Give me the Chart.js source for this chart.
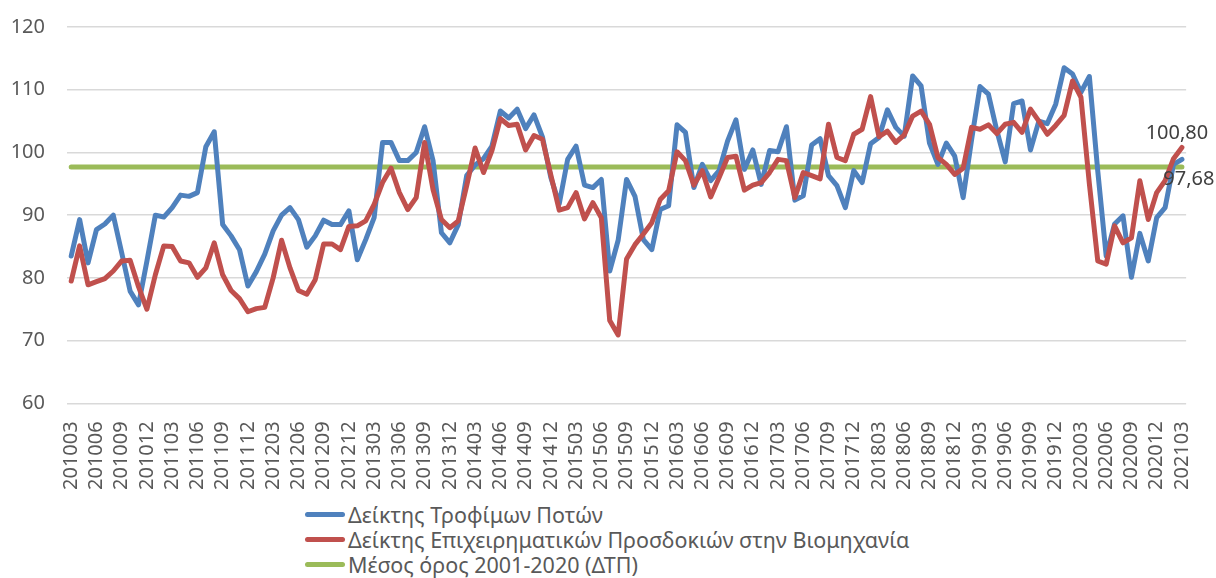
<!DOCTYPE html>
<html lang="el">
<head>
    <meta charset="UTF-8">
    <title>Δείκτης Τροφίμων Ποτών</title>
    <script src="https://cdn.jsdelivr.net/npm/chart.js"></script>
    <style>
        body {
            margin: 0;
            background: #ffffff;
            font-family: 'Noto Sans', sans-serif;
        }
        .wrap {
            position: relative;
            width: 1216px;
            height: 578px;
            overflow: hidden;
        }
        .chart-box {
            position: absolute;
            left: 0;
            top: -7px;
            width: 1216px;
            height: 507px;
        }
        #legend {
            position: absolute;
            left: 305px;
            top: 502px;
            color: #595959;
            font-size: 21.5px;
            line-height: 25px;
        }
        #legend div {
            display: flex;
            align-items: center;
            white-space: nowrap;
        }
        #legend span.swatch {
            display: inline-block;
            width: 40px;
            height: 5px;
            border-radius: 3px;
            margin-right: 3px;
        }
    </style>
</head>
<body>
    <div class="wrap">
        <div class="chart-box">
            <canvas id="indexChart"></canvas>
        </div>
        <div id="legend"></div>
    </div>

    <script>
        // months 201003 .. 202103
        const startYear = 2010, startMonth = 3;
        const monthCount = 133;
        const months = [];
        for (let k = 0; k < monthCount; k++) {
            const m = startMonth - 1 + k;
            const y = startYear + Math.floor(m / 12);
            const mm = (m % 12) + 1;
            months.push(String(y) + String(mm).padStart(2, '0'));
        }

        // Δείκτης Τροφίμων Ποτών
        const foodDrinkIndex = [
            83.5, 89.3, 82.4, 87.7, 88.6, 90.0, 84.0, 77.9, 75.7, 82.7,
            90.0, 89.7, 91.2, 93.2, 93.0, 93.6, 100.9, 103.3, 88.5, 86.7,
            84.5, 78.7, 81.0, 83.8, 87.5, 90.0, 91.2, 89.3, 84.9, 86.7,
            89.2, 88.5, 88.5, 90.7, 82.9, 86.1, 89.6, 101.6, 101.6, 98.7,
            98.7, 100.0, 104.1, 98.7, 87.2, 85.6, 88.5, 96.3, 98.0, 99.0,
            101.0, 106.6, 105.5, 106.9, 103.8, 106.0, 102.5, 96.0, 91.8, 98.9,
            101.0, 94.8, 94.4, 95.7, 81.1, 86.0, 95.7, 93.0, 86.1, 84.5,
            90.9, 91.5, 104.4, 103.2, 94.4, 98.1, 95.5, 97.1, 101.8, 105.2,
            97.3, 100.4, 94.9, 100.3, 100.1, 104.1, 92.4, 93.1, 101.2, 102.2,
            96.3, 94.7, 91.2, 97.1, 95.2, 101.4, 102.4, 106.8, 104.0, 102.6,
            112.2, 110.6, 101.5, 98.1, 101.5, 99.4, 92.8, 102.0, 110.5, 109.3,
            103.5, 98.5, 107.8, 108.2, 100.4, 105.0, 104.6, 107.7, 113.5, 112.5,
            109.6, 112.1, 97.0, 83.5, 88.6, 89.9, 80.1, 87.1, 82.7, 89.6,
            91.2, 98.1, 98.9
        ];

        // Δείκτης Επιχειρηματικών Προσδοκιών στην Βιομηχανία
        const industryIndex = [
            79.5, 85.1, 78.9, 79.4, 79.9, 81.1, 82.7, 82.8, 78.6, 75.0,
            80.5, 85.1, 85.0, 82.7, 82.4, 80.1, 81.6, 85.6, 80.5, 78.0,
            76.7, 74.6, 75.1, 75.3, 80.0, 86.0, 81.6, 78.0, 77.4, 79.7,
            85.4, 85.4, 84.5, 88.2, 88.3, 89.1, 91.7, 95.2, 97.5, 93.6,
            90.9, 92.8, 101.6, 94.1, 89.3, 88.0, 89.1, 94.7, 100.7, 96.8,
            100.3, 105.4, 104.3, 104.5, 100.4, 102.7, 102.1, 96.4, 90.8, 91.2,
            93.6, 89.4, 92.0, 89.6, 73.2, 70.9, 83.0, 85.3, 87.0, 88.8,
            92.5, 93.9, 100.1, 98.7, 94.8, 97.1, 92.9, 96.0, 99.2, 99.4,
            94.0, 94.8, 95.2, 96.8, 98.9, 98.7, 92.8, 96.8, 96.3, 95.8,
            104.5, 99.2, 98.7, 102.9, 103.7, 108.9, 102.5, 103.4, 101.6, 102.8,
            105.8, 106.6, 104.5, 99.2, 98.1, 96.5, 97.5, 104.0, 103.7, 104.4,
            103.0, 104.5, 104.8, 103.2, 106.9, 105.0, 102.9, 104.3, 105.9, 111.4,
            108.8, 95.0, 82.7, 82.2, 88.3, 85.6, 86.4, 95.5, 89.3, 93.6,
            95.5, 99.0, 100.8
        ];

        // Μέσος όρος 2001-2020 (ΔΤΠ)
        const meanValue = 97.68;
        const meanLine = months.map(() => meanValue);

        const yTicks = [60, 70, 80, 90, 100, 110, 120];

        const seriesNames = [
            'Δείκτης Τροφίμων Ποτών',
            'Δείκτης Επιχειρηματικών Προσδοκιών στην Βιομηχανία',
            'Μέσος όρος 2001-2020 (ΔΤΠ)'
        ];
        const seriesColors = ['#4f81bd', '#c0504d', '#9bbb59'];

        // value labels at the end of some lines
        const endLabels = {
            1: { text: '100,80', dx: -5, dy: -14 },
            2: { text: '97,68', dx: 7, dy: 12 }
        };

        const endLabelPlugin = {
            id: 'endLabels',
            afterDatasetsDraw(chart) {
                const ctx = chart.ctx;
                ctx.save();
                ctx.font = "20px 'Noto Sans', sans-serif";
                ctx.fillStyle = '#404040';
                ctx.textAlign = 'center';
                ctx.textBaseline = 'middle';
                Object.keys(endLabels).forEach(idx => {
                    const meta = chart.getDatasetMeta(Number(idx));
                    const pt = meta.data[meta.data.length - 1];
                    const lab = endLabels[idx];
                    ctx.fillText(lab.text, pt.x + lab.dx, pt.y + lab.dy);
                });
                ctx.restore();
            }
        };

        const datasets = [foodDrinkIndex, industryIndex, meanLine].map((vals, i) => ({
            label: seriesNames[i],
            data: vals,
            borderColor: seriesColors[i],
            backgroundColor: seriesColors[i],
            borderWidth: 5,
            pointRadius: 0,
            tension: 0,
            borderCapStyle: 'round',
            borderJoinStyle: 'round',
            fill: false
        }));
        // draw green first, then blue, red on top
        datasets[2].order = 3;
        datasets[0].order = 2;
        datasets[1].order = 1;

        const ctx = document.getElementById('indexChart').getContext('2d');
        new Chart(ctx, {
            type: 'line',
            data: { labels: months, datasets: datasets },
            plugins: [endLabelPlugin],
            options: {
                responsive: true,
                maintainAspectRatio: false,
                animation: false,
                layout: { padding: { left: 8, right: 21, top: 9, bottom: 0 } },
                plugins: {
                    legend: { display: false },
                    tooltip: { enabled: false }
                },
                scales: {
                    x: {
                        offset: true,
                        grid: { display: false },
                        border: { display: false },
                        ticks: {
                            autoSkip: false,
                            minRotation: 90,
                            maxRotation: 90,
                            padding: 10,
                            color: '#595959',
                            font: { family: "'Noto Sans', sans-serif", size: 20 },
                            callback: (v, i) => (i % 3 === 0 ? months[i] : '')
                        }
                    },
                    y: {
                        min: 60,
                        max: 120,
                        afterBuildTicks: axis => {
                            axis.ticks = yTicks.map(v => ({ value: v }));
                        },
                        afterFit: axis => {
                            axis.width = 59;
                        },
                        grid: { color: '#d9d9d9', lineWidth: 1.5, drawTicks: false },
                        border: { display: false },
                        ticks: {
                            padding: 22,
                            color: '#595959',
                            font: { family: "'Noto Sans', sans-serif", size: 20 }
                        }
                    }
                }
            }
        });

        // legend below the chart, one entry per row
        const legendEl = document.getElementById('legend');
        seriesNames.forEach((name, i) => {
            const row = document.createElement('div');
            row.innerHTML = '<span class="swatch" style="background:' + seriesColors[i] + '"></span>' + name;
            legendEl.appendChild(row);
        });
    </script>
</body>
</html>
